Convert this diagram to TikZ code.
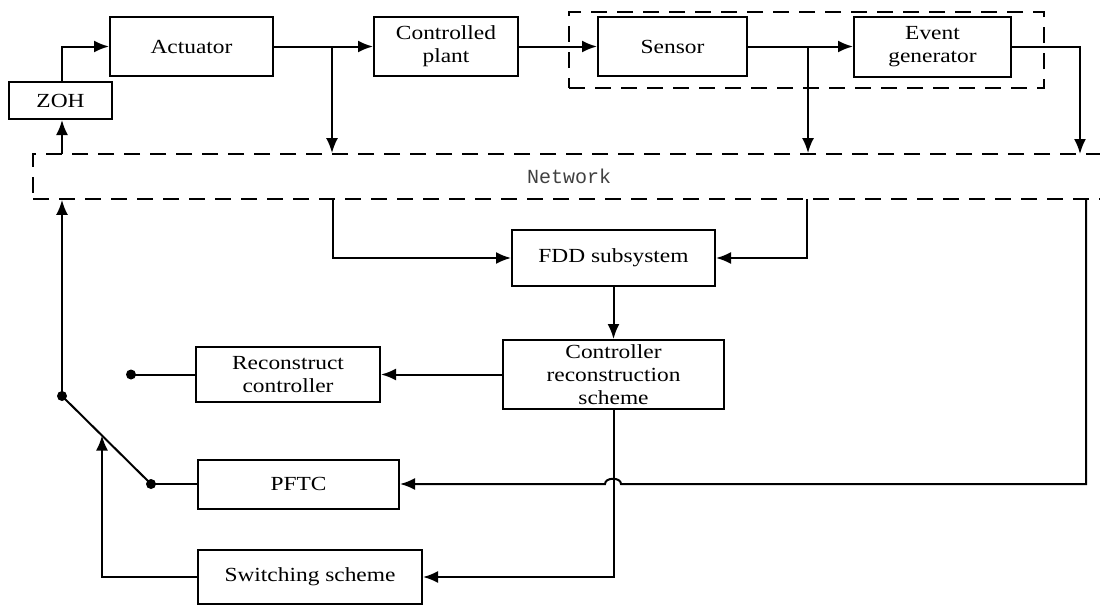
\documentclass[tikz,border=0pt]{standalone}
\usepackage{fontspec}
\setmainfont[FakeStretch=1.17]{Liberation Serif}
\newfontfamily\netfont{Liberation Mono}
\usetikzlibrary{arrows.meta}
\begin{document}
\begin{tikzpicture}[x=1pt,y=-1pt,
  blk/.style={draw, line width=2pt, inner sep=0pt, align=center,
    font=\fontsize{20}{23}\selectfont},
  ln/.style={line width=2pt},
  arr/.style={ln, -{Latex[length=15pt,width=12pt]}},
  grp/.style={draw, line width=1.8pt, dash pattern=on 16pt off 10pt, inner sep=0pt},
  dotn/.style={circle, fill, inner sep=0pt, minimum size=10pt}]
\useasboundingbox (0,0) rectangle (1100,605);
\clip (0,0) rectangle (1100,605);

% dashed groups
\node[grp, minimum width=475pt, minimum height=76pt] (grp) at (806.5,50) {};
\node[grp, minimum width=1097pt, minimum height=45pt] (net) at (581.5,176.5) {};
\node[font=\netfont\fontsize{20}{22}\selectfont, text=black!75] (nettxt) at (569,176) {Network};

% blocks
\node[blk, minimum width=103pt, minimum height=37pt] (zoh) at (60.5,100.5) {ZOH};
\node[blk, minimum width=163pt, minimum height=59pt] (act) at (191.5,46.5) {Actuator};
\node[blk, minimum width=144pt, minimum height=59pt] (plant) at (446,46.5) {Controlled\\plant};
\node[blk, minimum width=149pt, minimum height=59pt] (sensor) at (672.5,46.5) {Sensor};
\node[blk, minimum width=157pt, minimum height=60pt] (event) at (932.5,47) {Event\\generator};
\node[blk, minimum width=203pt, minimum height=56pt] (fdd) at (613.5,258) {FDD subsystem};
\node[blk, minimum width=221pt, minimum height=69pt] (crs) at (613.5,374.5) {Controller\\reconstruction\\scheme};
\node[blk, minimum width=184pt, minimum height=55pt] (rc) at (288,374.5) {Reconstruct\\controller};
\node[blk, minimum width=201pt, minimum height=49pt] (pftc) at (298.5,484) {PFTC};
\node[blk, minimum width=224pt, minimum height=54pt] (sw) at (310,577) {Switching scheme};

% switch contacts
\node[dotn] (dRC) at (131,374.5) {};
\node[dotn] (dP) at (62,396) {};
\node[dotn] (dPF) at (151,484) {};

% auxiliary points
\coordinate (b1) at (332,46.5);
\coordinate (b2) at (808,46.5);
\coordinate (eo) at (1080,154);
\coordinate (zin) at (62,154);
\coordinate (n1) at (333,199);
\coordinate (n2) at (807,199);
\coordinate (n3) at (1086,199);
\coordinate (h1) at (621,484);
\coordinate (h2) at (605,484);
\coordinate (tip) at (102,435.5);

% top chain
\draw[arr] (zoh.north -| zin) |- (act.west);
\draw[arr] (act.east) -- (plant.west);
\draw[arr] (b1) -- (b1 |- net.north);
\draw[arr] (plant.east) -- (sensor.west);
\draw[arr] (sensor.east) -- (sensor.east -| event.west);
\draw[arr] (b2) -- (b2 |- net.north);
\draw[arr] (event.east) -| (eo);
\draw[arr] (zin) -- (zin |- zoh.south);

% network to FDD
\draw[arr] (n1) |- (fdd.west);
\draw[arr] (n2) |- (fdd.east);
\draw[arr] (fdd.south) -- (crs.north);
\draw[arr] (crs.west) -- (rc.east);
\draw[arr] (crs.south) |- (sw.east);

% PFTC feedback with hop
\draw[arr] (n3) |- (h1) .. controls (621,477) and (605,477) .. (h2) -- (pftc.east);

% switch
\draw[ln] (rc.west) -- (dRC.center);
\draw[ln] (pftc.west) -- (dPF.center);
\draw[ln] (dP.center) -- (dPF.center);
\draw[arr] (dP.center) -- (dP |- net.south);
\draw[arr] (sw.west) -| (tip);
\end{tikzpicture}
\end{document}
